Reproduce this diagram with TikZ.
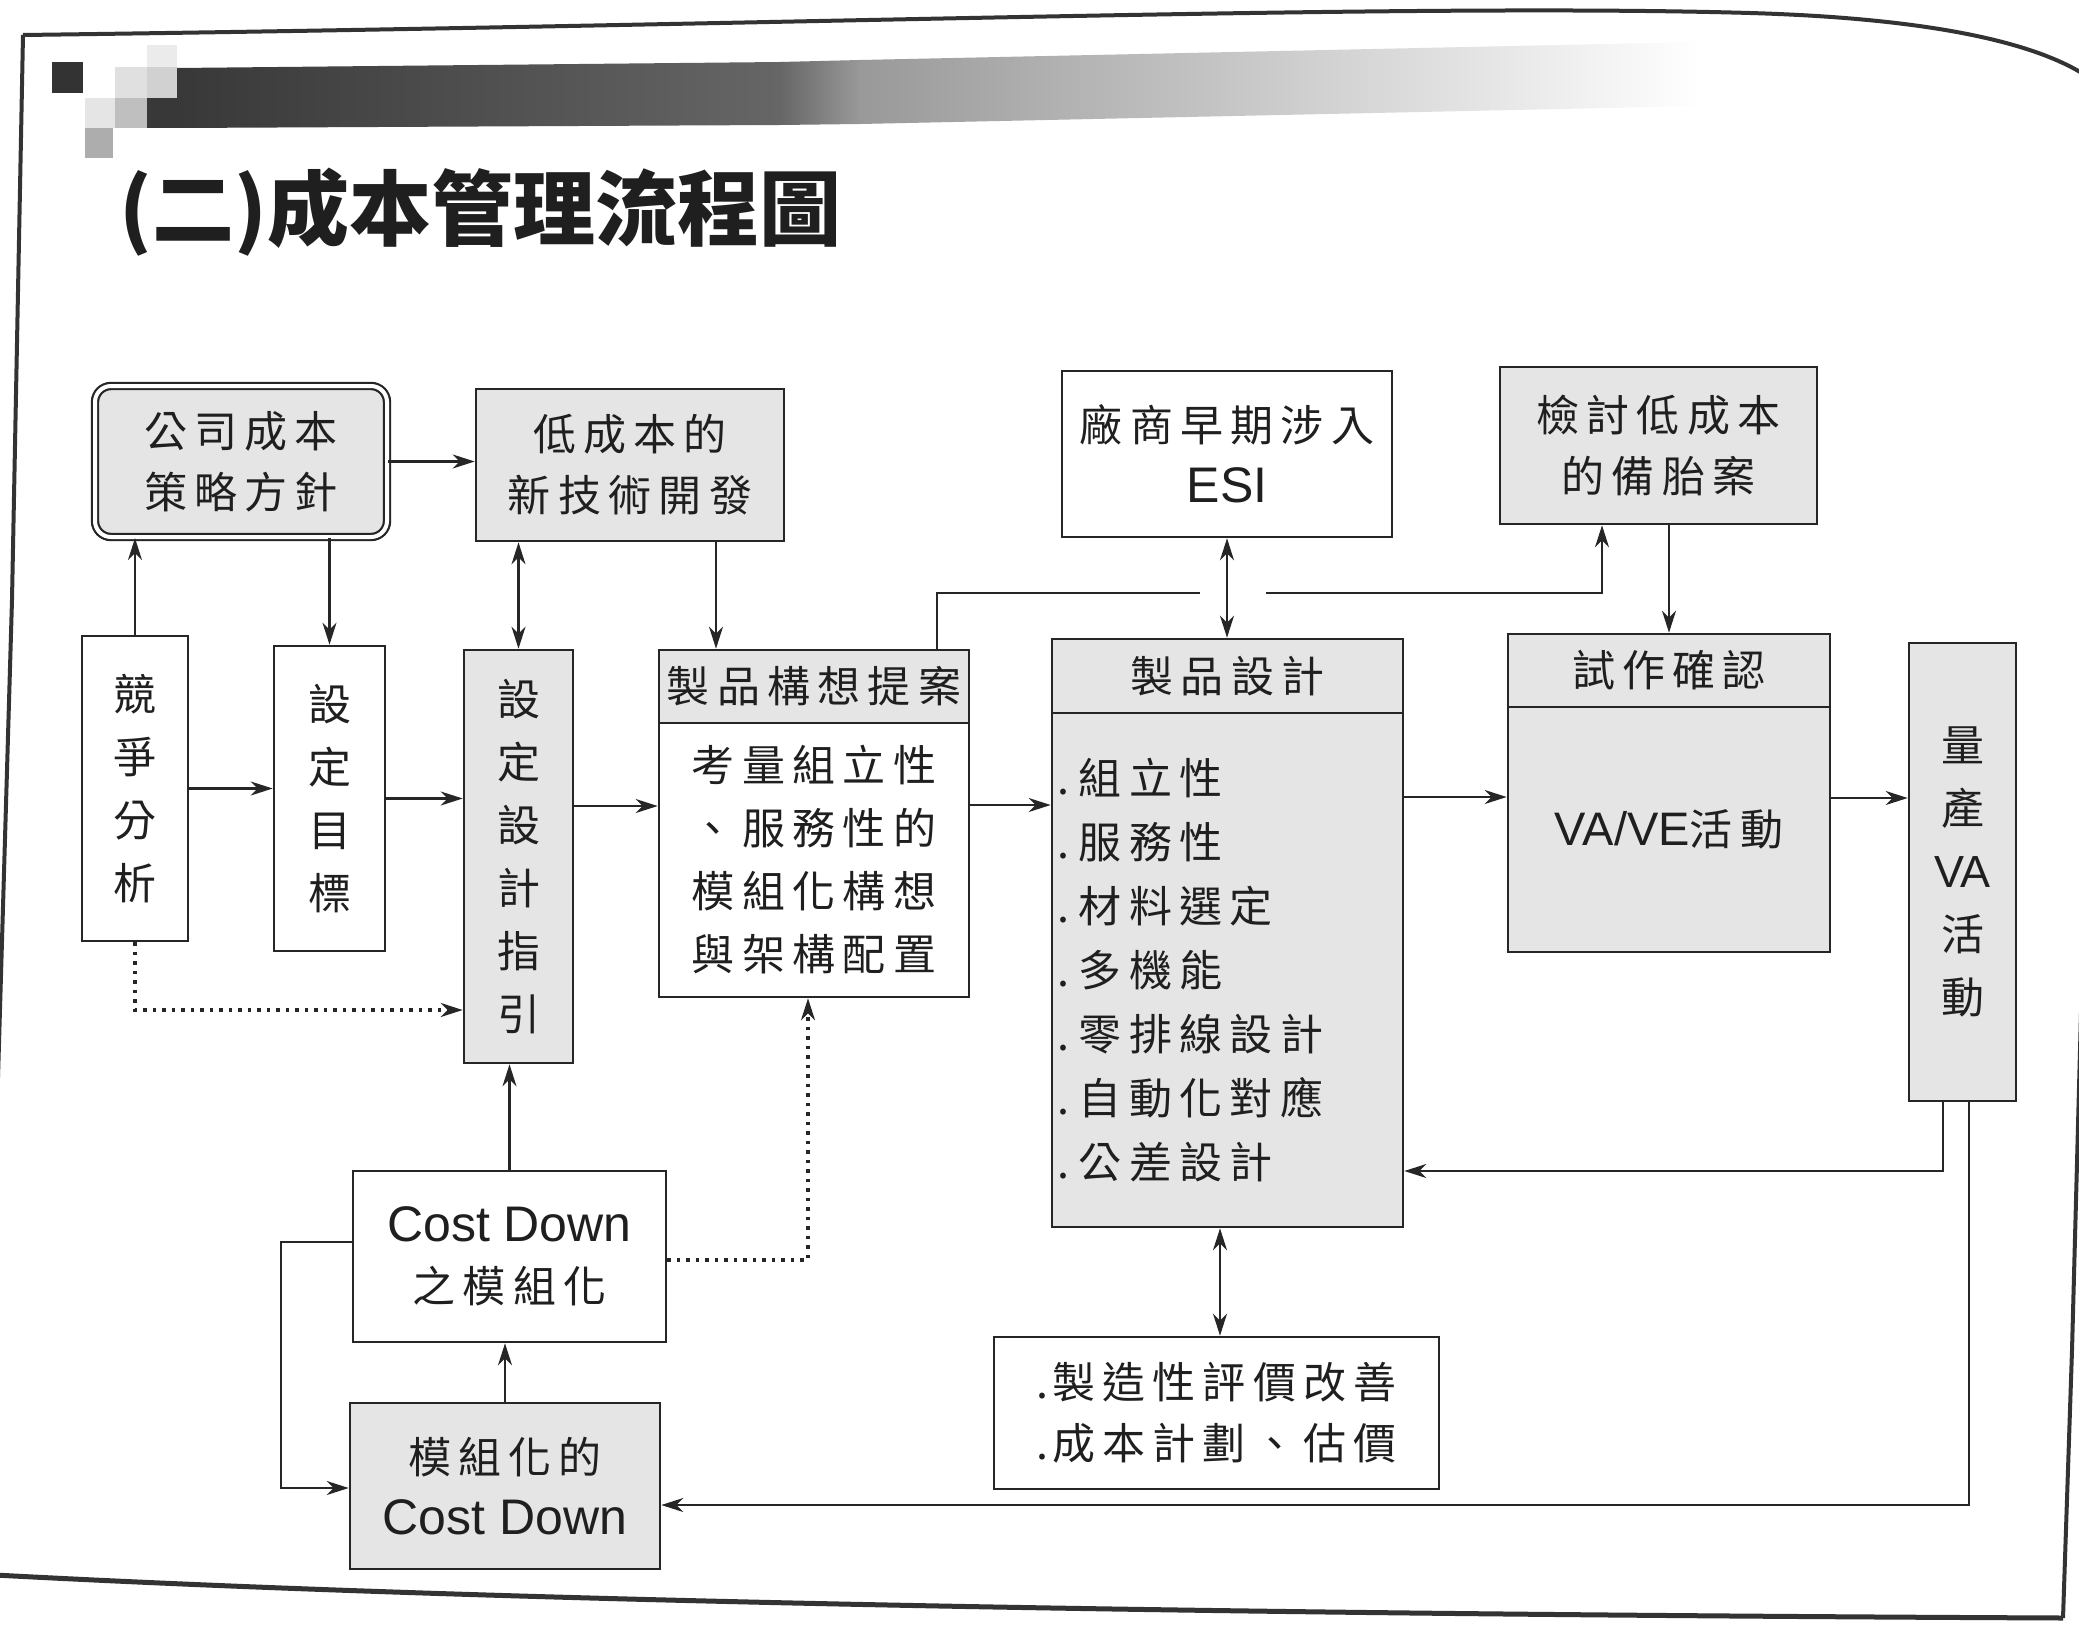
\documentclass[tikz,border=0pt]{standalone}
\usepackage{fontspec}
\setmainfont{Liberation Sans}
\newfontfamily\cjk{Noto Sans CJK TC}[LetterSpace=17]
\newfontfamily\cjkt{Noto Sans CJK TC}
\newfontfamily\lat{Liberation Sans}
\usetikzlibrary{arrows.meta}
\begin{document}
\begin{tikzpicture}[x=1pt,y=-1pt,
  bx/.style={draw=black!85, line width=2.6pt, inner sep=0pt, align=center, text=black!88,
    font=\cjk\fontsize{43}{61}\selectfont},
  gbx/.style={bx, fill=black!10},
  wbx/.style={bx, fill=white},
  vtxt/.style={font=\cjk\fontsize{43}{63}\selectfont},
  ln/.style={draw=black!85, line width=2.2pt},
  arr/.style={ln, -{Stealth[length=22pt,width=14pt,inset=7pt]}},
  darr/.style={ln, {Stealth[length=22pt,width=14pt,inset=7pt]}-{Stealth[length=22pt,width=14pt,inset=7pt]}},
  dotarr/.style={arr, line width=3.5pt, dash pattern=on 3.5pt off 6pt},
  frame/.style={draw=black!80, line width=4pt},
]
\useasboundingbox (0,0) rectangle (2079,1627);
\fill[white] (0,0) rectangle (2079,1627);

% header decoration
\fill[black!80] (52,62) rectangle (83,93);
\fill[black!8] (147,45) rectangle (177,67);
\fill[black!12] (115,67) rectangle (147,98);
\fill[black!18] (147,67) rectangle (177,98);
\fill[black!10] (85,98) rectangle (115,128);
\fill[black!25] (115,98) rectangle (147,128);
\fill[black!32] (85,128) rectangle (113,158);
\fill[black!78] (147,98) rectangle (177,128);
\shade[left color=black!78, right color=black!60] (177,68) -- (780,62) -- (780,125) -- (177,128) -- cycle;
\shade[left color=black!60, right color=black!40] (780,62) -- (860,60) -- (860,124) -- (780,125) -- cycle;
\shade[left color=black!40, right color=white] (860,60) -- (1700,42) -- (1700,106) -- (860,124) -- cycle;

% frame
\draw[frame] (23,35) .. controls (800,25) and (1400,3) .. (1750,13) .. controls (1920,18) and (2030,40) .. (2085,75);
\draw[frame] (2084,900) -- (2072,1350) -- (2063,1618);
\draw[frame, line width=5pt] (2063,1618) .. controls (1200,1614) and (500,1602) .. (-5,1575);
\draw[frame] (23,35) -- (12,600) -- (-5,1180);

% title
\node[anchor=west, text=black!88, font=\cjkt\bfseries\fontsize{82}{82}\selectfont] (title) at (116,212) {(二)成本管理流程圖};

% boxes
\node[gbx, rounded corners=16pt, double=white, double distance=4pt, line width=2.2pt,
  minimum width=292pt, minimum height=151pt] (A) at (241,461.5) {公司成本\\策略方針};
\node[gbx, minimum width=308pt, minimum height=152pt] (B) at (630,465) {低成本的\\新技術開發};
\node[wbx, minimum width=330pt, minimum height=166pt] (C) at (1227,454)
  {廠商早期涉入\\{\lat\fontsize{50}{61}\selectfont ESI}};
\node[gbx, minimum width=317pt, minimum height=157pt] (D) at (1658.5,445.5) {檢討低成本\\的備胎案};
\node[wbx, vtxt, minimum width=106pt, minimum height=305pt] (E) at (135,788.5) {競\\爭\\分\\析};
\node[wbx, vtxt, minimum width=111pt, minimum height=305pt] (F) at (329.5,798.5) {設\\定\\目\\標};
\node[gbx, vtxt, minimum width=109pt, minimum height=413pt] (G) at (518.5,856.5) {設\\定\\設\\計\\指\\引};
\node[gbx, minimum width=310pt, minimum height=73pt] (Hh) at (814,686.5) {製品構想提案};
\node[wbx, vtxt, minimum width=310pt, minimum height=274pt] (Hb) at (814,860)
  {考量組立性\\、服務性的\\模組化構想\\與架構配置};
\node[gbx, minimum width=351pt, minimum height=74pt] (Ih) at (1227.5,676) {製品設計};
\node[gbx, minimum height=514pt, text width=341pt, inner xsep=5pt, align=left,
  font=\cjk\fontsize{43}{64}\selectfont] (Ib) at (1227.5,970)
  {.\hspace{10pt}組立性\\.\hspace{10pt}服務性\\.\hspace{10pt}材料選定\\.\hspace{10pt}多機能\\.\hspace{10pt}零排線設計\\.\hspace{10pt}自動化對應\\.\hspace{10pt}公差設計};
\node[gbx, minimum width=322pt, minimum height=73pt] (Jh) at (1669,670.5) {試作確認};
\node[gbx, minimum width=322pt, minimum height=245pt] (Jb) at (1669,829.5)
  {{\lat\fontsize{47}{50}\selectfont VA/VE}活動};
\node[gbx, vtxt, minimum width=107pt, minimum height=458pt] (K) at (1962.5,872)
  {量\\產\\{\lat\fontsize{45}{63}\selectfont VA}\\活\\動};
\node[wbx, minimum width=313pt, minimum height=171pt] (L) at (509.5,1256.5)
  {{\lat\fontsize{50}{64}\selectfont Cost Down}\\之模組化};
\node[gbx, minimum width=310pt, minimum height=166pt] (M) at (505,1486)
  {模組化的\\{\lat\fontsize{50}{61}\selectfont Cost Down}};
\node[wbx, minimum width=445pt, minimum height=152pt, align=left] (N) at (1216.5,1413)
  {.\hspace{4pt}製造性評價改善\\.\hspace{4pt}成本計劃、估價};

% helper coordinates
\coordinate (gapL) at (1200,593);
\coordinate (gapR) at (1266,593);
\coordinate (lbend) at (281,1242);

% connectors
\draw[arr] (A.east) -- (A.east -| B.west);
\draw[arr] (E.north) -- (E.north |- A.south);
\draw[arr] (F.north |- A.south) -- (F.north);
\draw[darr] (G.north |- B.south) -- (G.north);
\draw[arr] ([xshift=86pt]B.south) -- ([xshift=86pt]B.south |- Hh.north);
\draw[arr] (E.east) -- (E.east -| F.west);
\draw[arr] (F.east) -- (F.east -| G.west);
\draw[arr] (G.east |- 0,806) -- (Hb.west |- 0,806);
\draw[dotarr] (E.south) -- (E.south |- 0,1010) -- (G.west |- 0,1010);
\draw[arr] (Hb.east |- 0,805) -- (Ib.west |- 0,805);
\draw[ln] (Hh.north -| 937,0) |- (gapL);
\draw[arr] (gapR) -| (D.south -| 1602,0);
\draw[darr] (C.south) -- (C.south |- Ih.north);
\draw[arr] (Jh.north |- D.south) -- (Jh.north);
\draw[arr] (Ib.east |- 0,797) -- (Jb.west |- 0,797);
\draw[arr] (Jb.east |- 0,798) -- (K.west |- 0,798);
\draw[arr] (K.south -| 1943,0) |- (Ib.east |- 0,1171);
\draw[arr] (K.south -| 1969,0) |- (M.east |- 0,1505);
\draw[darr] (Ib.south -| 1220,0) -- (N.north -| 1220,0);
\draw[arr] (M.north) -- (M.north |- L.south);
\draw[arr] (L.north) -- (L.north |- G.south);
\draw[arr] (L.west |- lbend) -- (lbend) |- (M.west |- 0,1488);
\draw[dotarr] (L.east |- 0,1260) -| (Hb.south -| 808,0);
\end{tikzpicture}
\end{document}
